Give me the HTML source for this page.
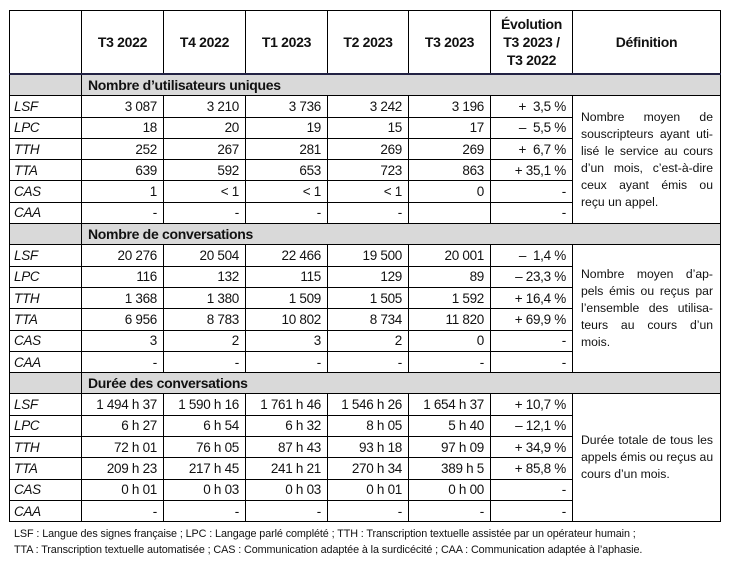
<!DOCTYPE html>
<html><head><meta charset="utf-8"><style>
html,body{margin:0;padding:0;background:#fff;width:731px;height:568px;overflow:hidden}
body{font-family:"Liberation Sans",sans-serif;color:#111}
table{position:absolute;left:9px;top:10px;border-collapse:collapse;table-layout:fixed;width:711px}
td{border:1px solid #000;padding:0 6px;font-size:13.5px;height:20.3px;line-height:17px;white-space:nowrap;letter-spacing:-0.3px;overflow:hidden}
td.n{text-align:right}
td.l{font-style:italic;padding-left:4px}
tr.h td{height:62px;font-weight:bold;text-align:center;font-size:14px;line-height:18px;border-bottom:2px solid #222244;padding:0 2px}
tr.s td{background:#d9d9d9;font-weight:bold;font-size:14px}
td.d{white-space:nowrap;font-size:12.2px;line-height:17px;letter-spacing:0;vertical-align:middle;padding:0 7px 0 8px}
td.d div{text-align:justify;text-align-last:justify}
td.d div.e{text-align-last:left}
.f{position:absolute;left:14px;font-size:10.8px;letter-spacing:-0.1px;white-space:nowrap}
</style></head><body>
<table>
<colgroup><col style="width:72px"><col style="width:82px"><col style="width:82px"><col style="width:82px"><col style="width:81px"><col style="width:82px"><col style="width:82px"><col style="width:148px"></colgroup>
<tr class="h"><td></td><td>T3 2022</td><td>T4 2022</td><td>T1 2023</td><td>T2 2023</td><td>T3 2023</td><td>Évolution<br>T3 2023 /<br>T3 2022</td><td>Définition</td></tr>
<tr class="s"><td></td><td colspan="7">Nombre d’utilisateurs uniques</td></tr>
<tr><td class="l">LSF</td><td class="n">3 087</td><td class="n">3 210</td><td class="n">3 736</td><td class="n">3 242</td><td class="n">3 196</td><td class="n">+ &nbsp;3,5 %</td><td class="d" rowspan="6"><div>Nombre moyen de</div><div>souscripteurs ayant uti-</div><div>lisé le service au cours</div><div>d’un mois, c’est-à-dire</div><div>ceux ayant émis ou</div><div class="e">reçu un appel.</div></td></tr>
<tr><td class="l">LPC</td><td class="n">18</td><td class="n">20</td><td class="n">19</td><td class="n">15</td><td class="n">17</td><td class="n">– &nbsp;5,5 %</td></tr>
<tr><td class="l">TTH</td><td class="n">252</td><td class="n">267</td><td class="n">281</td><td class="n">269</td><td class="n">269</td><td class="n">+ &nbsp;6,7 %</td></tr>
<tr><td class="l">TTA</td><td class="n">639</td><td class="n">592</td><td class="n">653</td><td class="n">723</td><td class="n">863</td><td class="n">+ 35,1 %</td></tr>
<tr><td class="l">CAS</td><td class="n">1</td><td class="n">&lt; 1</td><td class="n">&lt; 1</td><td class="n">&lt; 1</td><td class="n">0</td><td class="n">-</td></tr>
<tr><td class="l">CAA</td><td class="n">-</td><td class="n">-</td><td class="n">-</td><td class="n">-</td><td class="n"></td><td class="n">-</td></tr>
<tr class="s"><td></td><td colspan="7">Nombre de conversations</td></tr>
<tr><td class="l">LSF</td><td class="n">20 276</td><td class="n">20 504</td><td class="n">22 466</td><td class="n">19 500</td><td class="n">20 001</td><td class="n">– &nbsp;1,4 %</td><td class="d" rowspan="6"><div>Nombre moyen d’ap-</div><div>pels émis ou reçus par</div><div>l’ensemble des utilisa-</div><div>teurs au cours d’un</div><div class="e">mois.</div></td></tr>
<tr><td class="l">LPC</td><td class="n">116</td><td class="n">132</td><td class="n">115</td><td class="n">129</td><td class="n">89</td><td class="n">– 23,3 %</td></tr>
<tr><td class="l">TTH</td><td class="n">1 368</td><td class="n">1 380</td><td class="n">1 509</td><td class="n">1 505</td><td class="n">1 592</td><td class="n">+ 16,4 %</td></tr>
<tr><td class="l">TTA</td><td class="n">6 956</td><td class="n">8 783</td><td class="n">10 802</td><td class="n">8 734</td><td class="n">11 820</td><td class="n">+ 69,9 %</td></tr>
<tr><td class="l">CAS</td><td class="n">3</td><td class="n">2</td><td class="n">3</td><td class="n">2</td><td class="n">0</td><td class="n">-</td></tr>
<tr><td class="l">CAA</td><td class="n">-</td><td class="n">-</td><td class="n">-</td><td class="n">-</td><td class="n">-</td><td class="n">-</td></tr>
<tr class="s"><td></td><td colspan="7">Durée des conversations</td></tr>
<tr><td class="l">LSF</td><td class="n">1 494 h 37</td><td class="n">1 590 h 16</td><td class="n">1 761 h 46</td><td class="n">1 546 h 26</td><td class="n">1 654 h 37</td><td class="n">+ 10,7 %</td><td class="d" rowspan="6"><div>Durée totale de tous les</div><div>appels émis ou reçus au</div><div class="e">cours d’un mois.</div></td></tr>
<tr><td class="l">LPC</td><td class="n">6 h 27</td><td class="n">6 h 54</td><td class="n">6 h 32</td><td class="n">8 h 05</td><td class="n">5 h 40</td><td class="n">– 12,1 %</td></tr>
<tr><td class="l">TTH</td><td class="n">72 h 01</td><td class="n">76 h 05</td><td class="n">87 h 43</td><td class="n">93 h 18</td><td class="n">97 h 09</td><td class="n">+ 34,9 %</td></tr>
<tr><td class="l">TTA</td><td class="n">209 h 23</td><td class="n">217 h 45</td><td class="n">241 h 21</td><td class="n">270 h 34</td><td class="n">389 h 5</td><td class="n">+ 85,8 %</td></tr>
<tr><td class="l">CAS</td><td class="n">0 h 01</td><td class="n">0 h 03</td><td class="n">0 h 03</td><td class="n">0 h 01</td><td class="n">0 h 00</td><td class="n">-</td></tr>
<tr><td class="l">CAA</td><td class="n">-</td><td class="n">-</td><td class="n">-</td><td class="n">-</td><td class="n">-</td><td class="n">-</td></tr>
</table>
<div class="f" style="top:528px">LSF : Langue des signes française ; LPC : Langage parlé complété ; TTH : Transcription textuelle assistée par un opérateur humain ;</div>
<div class="f" style="top:544px">TTA : Transcription textuelle automatisée ; CAS : Communication adaptée à la surdicécité ; CAA : Communication adaptée à l’aphasie.</div>
</body></html>
